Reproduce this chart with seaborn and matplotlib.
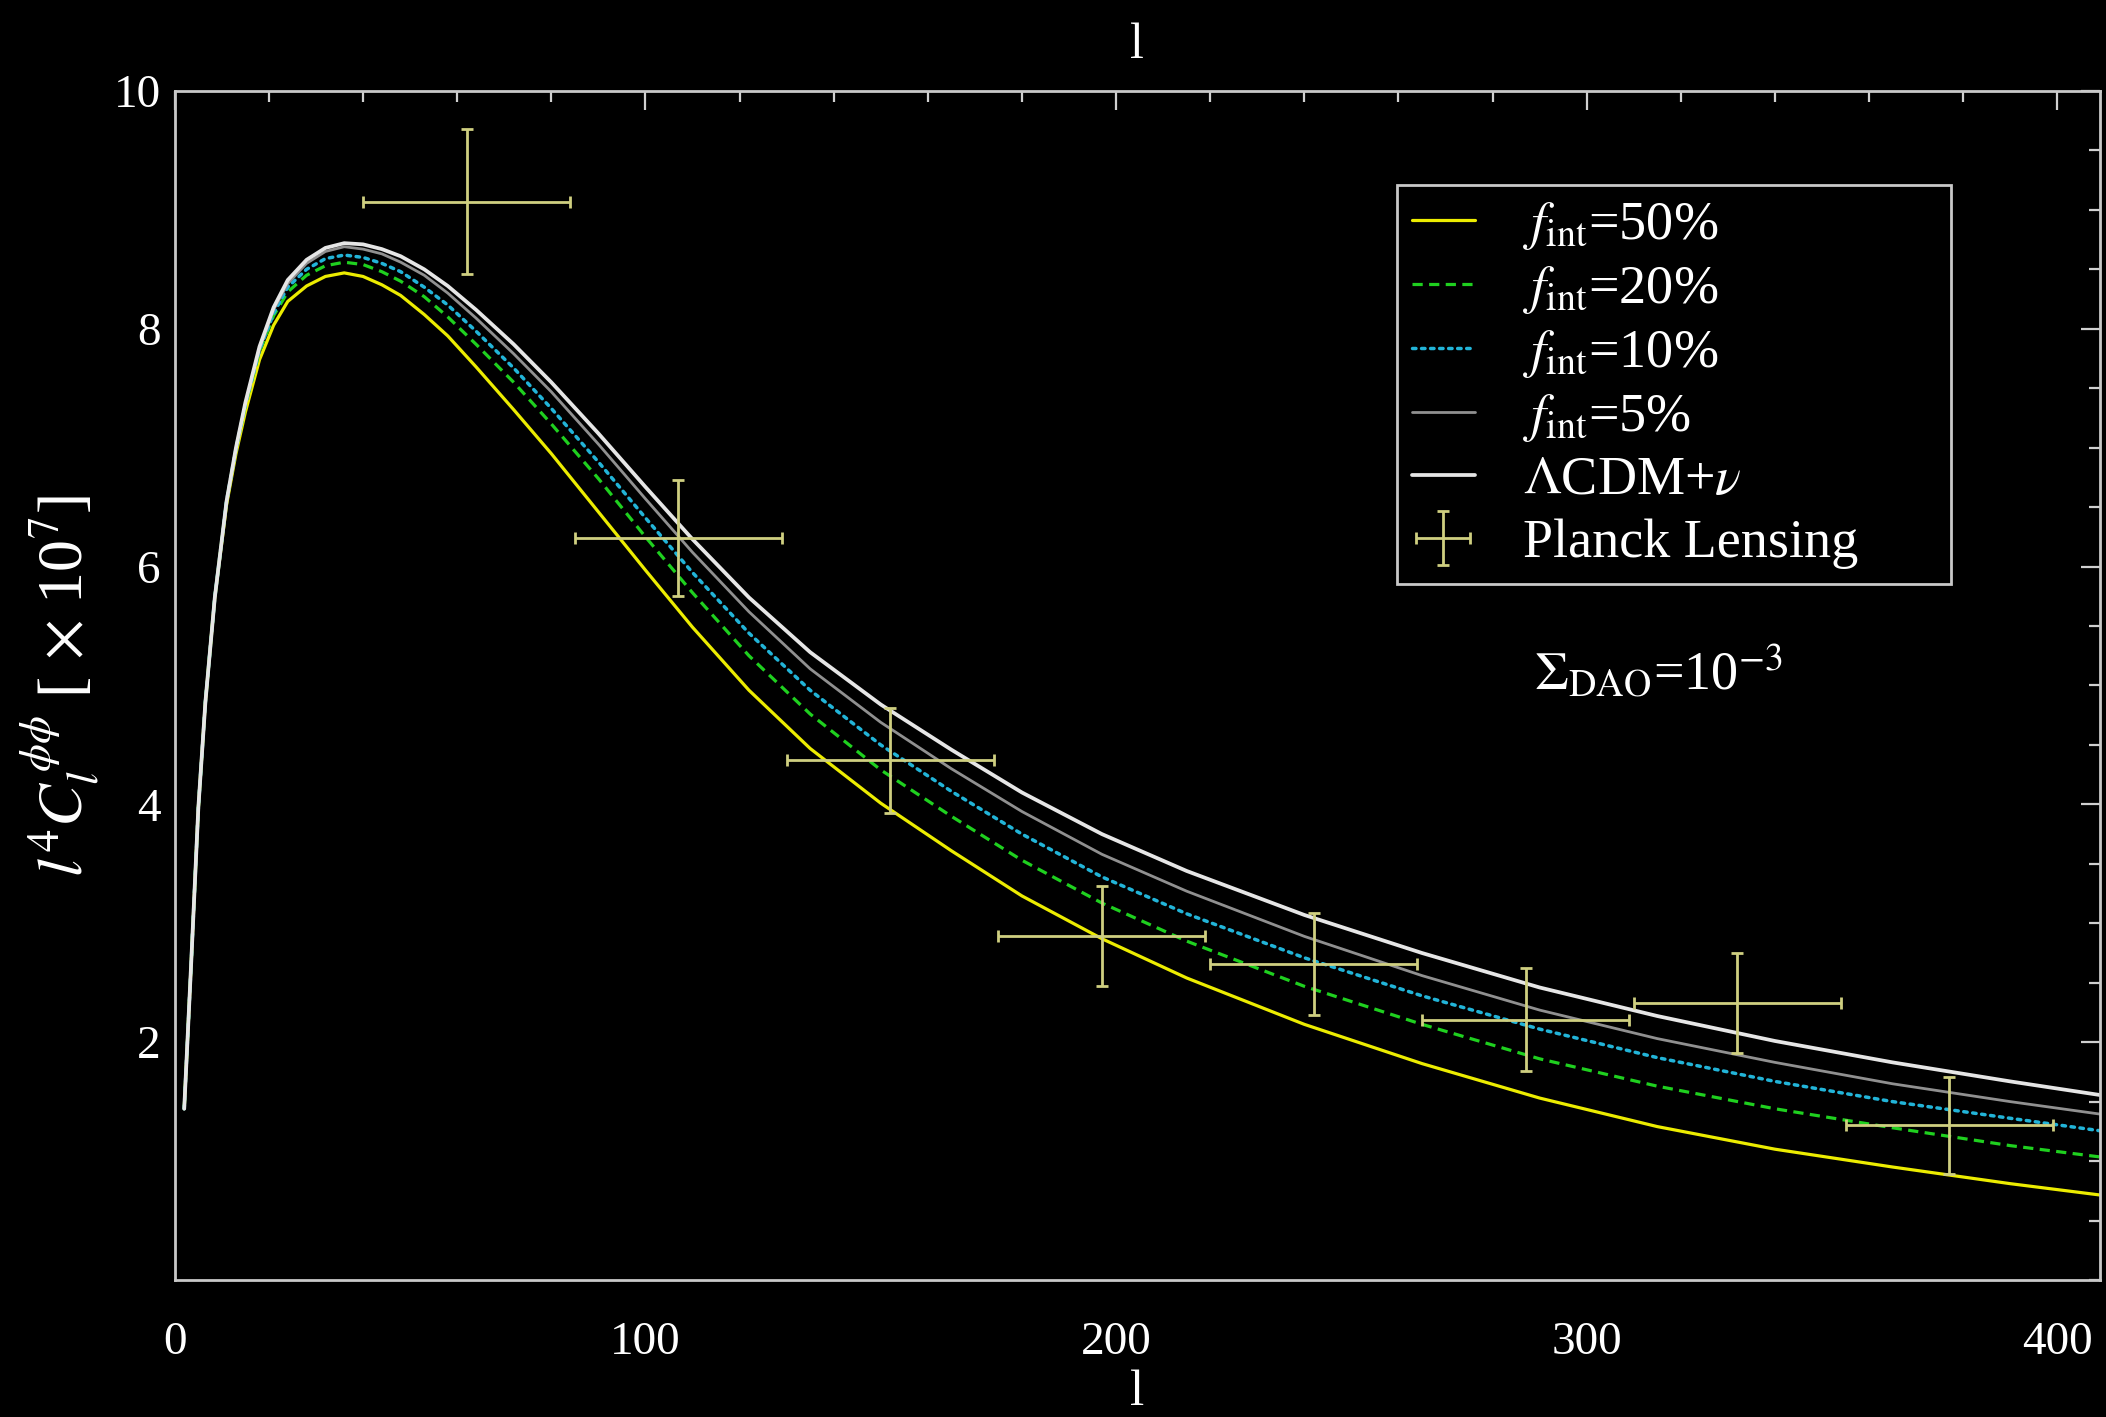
import numpy as np
import pandas as pd
import matplotlib
matplotlib.use("Agg")
import matplotlib.pyplot as plt
from matplotlib.ticker import FixedLocator, MultipleLocator
import seaborn as sns

# Multipole grid on which the lensing spectra are tabulated
ell = [2, 3.5, 5, 6.5, 8.5, 11, 13, 15, 18, 21, 24, 28, 32, 36, 40, 44, 48, 53,
       58, 64, 72, 80, 90, 100, 110, 122, 135, 150, 165, 180, 197, 215, 240,
       265, 290, 315, 340, 365, 390, 410]

# l^4 C_l^{phi phi} [x 1e7] for each model
cl_f50 = [1.44, 2.68, 3.97, 4.86, 5.74, 6.52, 6.95, 7.30, 7.74, 8.03, 8.23, 8.36,
          8.44, 8.47, 8.44, 8.37, 8.28, 8.12, 7.94, 7.68, 7.32, 6.95, 6.46, 5.97,
          5.49, 4.96, 4.47, 4.01, 3.61, 3.23, 2.87, 2.54, 2.15, 1.82, 1.53, 1.29,
          1.10, 0.95, 0.81, 0.71]
cl_f20 = [1.44, 2.68, 3.97, 4.86, 5.74, 6.55, 6.99, 7.36, 7.81, 8.11, 8.31, 8.45,
          8.53, 8.56, 8.54, 8.48, 8.40, 8.27, 8.10, 7.87, 7.55, 7.20, 6.74, 6.25,
          5.78, 5.25, 4.76, 4.29, 3.90, 3.53, 3.17, 2.85, 2.47, 2.15, 1.86, 1.63,
          1.44, 1.28, 1.13, 1.03]
cl_f10 = [1.44, 2.68, 3.97, 4.86, 5.74, 6.55, 6.99, 7.36, 7.82, 8.13, 8.35, 8.50,
          8.59, 8.62, 8.60, 8.55, 8.48, 8.35, 8.20, 7.98, 7.67, 7.33, 6.88, 6.41,
          5.95, 5.44, 4.96, 4.50, 4.11, 3.75, 3.39, 3.08, 2.71, 2.39, 2.11, 1.87,
          1.67, 1.50, 1.36, 1.25]
cl_f05 = [1.44, 2.68, 3.97, 4.86, 5.74, 6.55, 6.99, 7.37, 7.83, 8.16, 8.38, 8.55,
          8.65, 8.69, 8.67, 8.63, 8.56, 8.45, 8.30, 8.09, 7.79, 7.47, 7.03, 6.57,
          6.12, 5.62, 5.14, 4.69, 4.30, 3.94, 3.58, 3.27, 2.89, 2.56, 2.27, 2.03,
          1.83, 1.65, 1.50, 1.39]
cl_lcdm = [1.44, 2.68, 3.97, 4.86, 5.74, 6.55, 7.00, 7.38, 7.85, 8.18, 8.41, 8.58,
           8.68, 8.72, 8.71, 8.67, 8.61, 8.50, 8.36, 8.16, 7.87, 7.55, 7.12, 6.67,
           6.23, 5.74, 5.28, 4.84, 4.46, 4.10, 3.75, 3.44, 3.07, 2.75, 2.46, 2.22,
           2.01, 1.83, 1.67, 1.55]

model_labels = [r"$f_{\mathrm{int}}$=50%", r"$f_{\mathrm{int}}$=20%",
                r"$f_{\mathrm{int}}$=10%", r"$f_{\mathrm{int}}$=5%",
                r"$\Lambda$CDM+$\nu$"]

# Planck lensing bandpowers
planck_l = [62, 107, 152, 197, 242, 287, 332, 377]
planck_lo = [40, 85, 130, 175, 220, 265, 310, 355]
planck_hi = [84, 129, 174, 219, 264, 309, 354, 399]
planck_cl = [9.07, 6.24, 4.37, 2.89, 2.66, 2.19, 2.33, 1.30]
planck_err = [0.61, 0.49, 0.44, 0.42, 0.43, 0.43, 0.42, 0.41]

sns.set_style("dark", {
    "axes.facecolor": "black",
    "figure.facecolor": "black",
    "axes.edgecolor": "#c8c8c8",
    "text.color": "white",
    "axes.labelcolor": "white",
    "xtick.color": "#d0d0d0",
    "ytick.color": "#d0d0d0",
    "axes.grid": False,
})
plt.rcParams["font.family"] = ["Liberation Serif", "DejaVu Serif"]
plt.rcParams["mathtext.fontset"] = "stix"

frames = []
for lab, vals in zip(model_labels, [cl_f50, cl_f20, cl_f10, cl_f05, cl_lcdm]):
    frames.append(pd.DataFrame({"l": ell, "cl": vals, "model": lab}))
df = pd.concat(frames, ignore_index=True)

palette = {model_labels[0]: "#ecec00", model_labels[1]: "#1fd01f",
           model_labels[2]: "#22b4d8", model_labels[3]: "#909090",
           model_labels[4]: "#e6e6e6"}
dashes = {model_labels[0]: "", model_labels[1]: (3.2, 2.0),
          model_labels[2]: (1.0, 1.6), model_labels[3]: "",
          model_labels[4]: ""}
widths = {model_labels[0]: 2.3, model_labels[1]: 2.3, model_labels[2]: 2.5,
          model_labels[3]: 2.0, model_labels[4]: 2.7}

fig = plt.figure(figsize=(21.06, 14.17), dpi=100)
ax = fig.add_axes([0.083, 0.0967, 0.914, 0.8391])

for lab in model_labels:
    sub = df[df["model"] == lab]
    sns.lineplot(data=sub, x="l", y="cl", ax=ax, color=palette[lab],
                 lw=widths[lab], label=lab, estimator=None, sort=True)
    line = ax.lines[-1]
    line.set_solid_joinstyle("round")
    if dashes[lab]:
        line.set_dashes(dashes[lab])
        if lab == model_labels[2]:
            line.set_dash_capstyle("round")

planck_l_arr = np.array(planck_l)
xerr = [planck_l_arr - np.array(planck_lo), np.array(planck_hi) - planck_l_arr]
ax.errorbar(planck_l, planck_cl, yerr=planck_err, xerr=xerr, fmt="none",
            ecolor="#cfcf80", elinewidth=2.0, capsize=4, capthick=2.0,
            label="Planck Lensing")

ax.set_xlim(0, 409)
ax.set_ylim(0, 10)
ax.xaxis.set_major_locator(FixedLocator([0, 100, 200, 300, 400]))
ax.xaxis.set_minor_locator(MultipleLocator(20))
ax.yaxis.set_major_locator(FixedLocator([2, 4, 6, 8, 10]))
ax.yaxis.set_minor_locator(MultipleLocator(0.5))
ax.tick_params(which="both", direction="in", top=True, right=True,
               labelsize=34, width=1.6, colors="#d0d0d0")
ax.tick_params(which="major", length=14)
ax.tick_params(which="minor", length=8)
ax.tick_params(axis="x", pad=30)
ax.tick_params(axis="y", pad=10)
for sp in ax.spines.values():
    sp.set_color("#c8c8c8")
    sp.set_linewidth(2.0)
    sp.set_visible(True)
for lbl in ax.get_xticklabels() + ax.get_yticklabels():
    lbl.set_color("white")

ax.set_xlabel("l", fontsize=37, labelpad=4)
ax.set_ylabel(r"$l^4C_l^{\,\phi\phi}$ [ $\times$ 10$^7$]", fontsize=46, labelpad=8)
ax.set_title("l", fontsize=36, pad=24, color="white")

ax.text(0.771, 0.511, r"$\Sigma_{\mathrm{DAO}}$=10$^{-3}$", transform=ax.transAxes,
        fontsize=39, color="white", ha="center", va="center")

leg = ax.legend(loc="upper left", bbox_to_anchor=(0.635, 0.921, 0.288, 0.0),
                mode="expand", fontsize=39, frameon=True, fancybox=False,
                handlelength=1.15, handletextpad=0.9, labelspacing=0.22,
                borderpad=0.28, borderaxespad=0.0)
frame = leg.get_frame()
frame.set_facecolor("black")
frame.set_edgecolor("#c8c8c8")
frame.set_linewidth(2.0)
frame.set_alpha(1)
for t in leg.get_texts():
    t.set_color("white")

fig.savefig("out.png", dpi=100, facecolor="black")
